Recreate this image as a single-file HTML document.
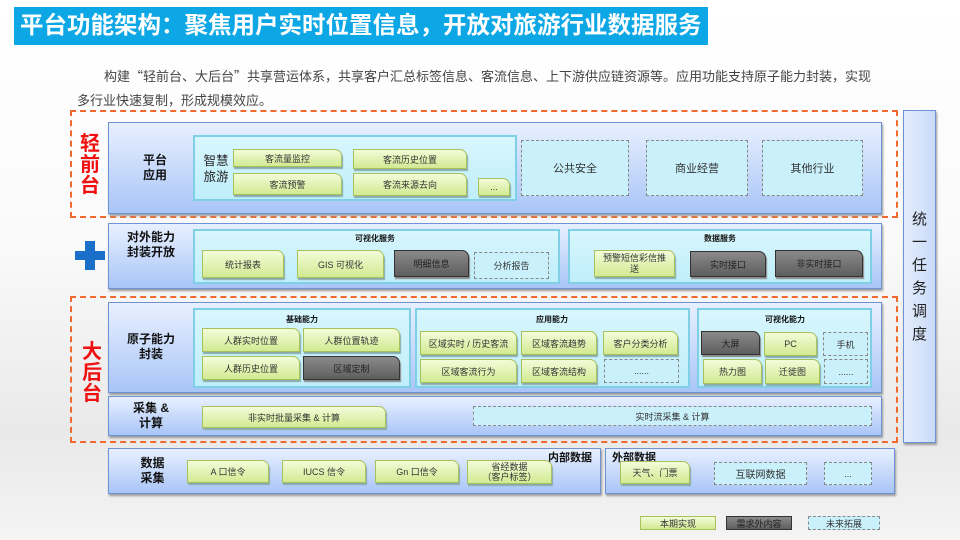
<!DOCTYPE html>
<html><head><meta charset="utf-8"><style>
body{margin:0;width:960px;height:540px;overflow:hidden;position:relative;font-family:"Liberation Sans","Noto Sans CJK SC",sans-serif;background:linear-gradient(#fff 0,#fafafa 45%,#e9e9e9 80%,#f4f4f4 100%);}
div{box-sizing:border-box;position:absolute;}
.t{display:flex;align-items:center;justify-content:center;text-align:center;}
.row{background:linear-gradient(#e8f0ff,#a9c5f7);border:1px solid #6d93d4;box-shadow:1px 2px 2px #999;}
.in{background:linear-gradient(#d8f6fd,#bfeefa);border:2px solid #7fd0e6;}
.g{background:linear-gradient(#f3fcd9,#d2ea92);border:1px solid #a7c25c;font-size:9px;color:#333;box-shadow:1px 2px 1px #8aa;border-top-right-radius:7px;}
.d{background:linear-gradient(#8a8a8a,#5e5e5e);border:1px solid #333;font-size:9px;color:#222;box-shadow:1px 2px 1px #888;border-top-right-radius:7px;}
.x{background:#c9f0fb;border:1.5px dashed #888;font-size:9px;color:#333;}
.lb{font-weight:bold;font-size:12px;color:#111;line-height:15px;}
.h{font-weight:bold;font-size:8px;color:#111;}
.o{border:2px dashed #f06a30;}
</style></head><body>
<div style="left:14px;top:7px;width:694px;height:38px;background:#0ea7e6;overflow:hidden;">
<div style="left:6px;top:0;width:760px;height:38px;color:#fff;font-size:23.5px;font-weight:bold;line-height:37px;white-space:nowrap;">平台功能架构：聚焦用户实时位置信息，开放对旅游行业数据服务</div></div>
<div style="left:77px;top:64px;width:810px;font-size:13px;color:#444;line-height:24px;text-indent:27px;font-family:'Noto Sans CJK SC',sans-serif;">构建“轻前台、大后台”共享营运体系，共享客户汇总标签信息、客流信息、上下游供应链资源等。应用功能支持原子能力封装，实现<br>多行业快速复制，形成规模效应。</div>

<div class="o" style="left:70px;top:110px;width:828px;height:108px;"></div>
<div class="o" style="left:70px;top:296px;width:828px;height:147px;"></div>
<div style="left:78px;top:134px;width:24px;color:#f01010;font-size:20px;font-weight:bold;line-height:21px;text-align:center">轻<br>前<br>台</div>
<div style="left:80px;top:342px;width:24px;color:#f01010;font-size:20px;font-weight:bold;line-height:21px;text-align:center">大<br>后<br>台</div>
<div style="left:75px;top:251px;width:30px;height:9px;background:#1a6fc9;"></div>
<div style="left:85px;top:241px;width:10px;height:29px;background:#1a6fc9;"></div>

<div class="row t" style="left:903px;top:110px;width:33px;height:333px;background:linear-gradient(90deg,#e4edfc,#c9daf8);font-size:15px;color:#222;line-height:23px;">统<br>一<br>任<br>务<br>调<br>度</div>

<!-- row1 -->
<div class="row" style="left:108px;top:122px;width:774px;height:92px;"></div>
<div class="lb t" style="left:130px;top:152px;width:50px;height:32px;">平台<br>应用</div>
<div class="in" style="left:193px;top:135px;width:324px;height:66px;"></div>
<div class="t" style="left:198px;top:152px;width:36px;height:34px;font-size:12.5px;color:#222;line-height:16px;">智慧<br>旅游</div>
<div class="g t" style="left:233px;top:149px;width:109px;height:18px;">客流量监控</div>
<div class="g t" style="left:353px;top:149px;width:114px;height:20px;">客流历史位置</div>
<div class="g t" style="left:233px;top:173px;width:109px;height:22px;">客流预警</div>
<div class="g t" style="left:353px;top:173px;width:114px;height:23px;">客流来源去向</div>
<div class="g t" style="left:478px;top:178px;width:32px;height:18px;">...</div>
<div class="x t" style="left:521px;top:140px;width:108px;height:56px;font-size:11px;">公共安全</div>
<div class="x t" style="left:646px;top:140px;width:102px;height:56px;font-size:11px;">商业经营</div>
<div class="x t" style="left:762px;top:140px;width:101px;height:56px;font-size:11px;">其他行业</div>

<!-- row2 -->
<div class="row" style="left:108px;top:223px;width:774px;height:66px;"></div>
<div class="lb t" style="left:118px;top:229px;width:66px;height:32px;">对外能力<br>封装开放</div>
<div class="in" style="left:193px;top:229px;width:367px;height:55px;"></div>
<div class="h t" style="left:300px;top:232px;width:150px;height:12px;">可视化服务</div>
<div class="g t" style="left:202px;top:250px;width:82px;height:28px;">统计报表</div>
<div class="g t" style="left:297px;top:250px;width:87px;height:28px;">GIS 可视化</div>
<div class="d t" style="left:394px;top:250px;width:75px;height:27px;">明细信息</div>
<div class="x t" style="left:474px;top:252px;width:75px;height:27px;">分析报告</div>
<div class="in" style="left:568px;top:229px;width:304px;height:55px;"></div>
<div class="h t" style="left:680px;top:232px;width:80px;height:12px;">数据服务</div>
<div class="g t" style="left:594px;top:250px;width:81px;height:27px;line-height:11px;">预警短信彩信推<br>送</div>
<div class="d t" style="left:690px;top:251px;width:76px;height:26px;">实时接口</div>
<div class="d t" style="left:775px;top:250px;width:88px;height:27px;">非实时接口</div>

<!-- row3 -->
<div class="row" style="left:108px;top:302px;width:774px;height:91px;"></div>
<div class="lb t" style="left:120px;top:331px;width:62px;height:32px;">原子能力<br>封装</div>
<div class="in" style="left:193px;top:308px;width:218px;height:80px;"></div>
<div class="h t" style="left:262px;top:313px;width:80px;height:12px;">基础能力</div>
<div class="g t" style="left:202px;top:328px;width:98px;height:24px;">人群实时位置</div>
<div class="g t" style="left:303px;top:328px;width:97px;height:24px;">人群位置轨迹</div>
<div class="g t" style="left:202px;top:356px;width:98px;height:24px;">人群历史位置</div>
<div class="d t" style="left:303px;top:356px;width:97px;height:24px;">区域定制</div>
<div class="in" style="left:415px;top:308px;width:275px;height:80px;"></div>
<div class="h t" style="left:512px;top:313px;width:80px;height:12px;">应用能力</div>
<div class="g t" style="left:420px;top:331px;width:97px;height:24px;">区域实时 / 历史客流</div>
<div class="g t" style="left:521px;top:331px;width:76px;height:24px;">区域客流趋势</div>
<div class="g t" style="left:603px;top:331px;width:75px;height:24px;">客户分类分析</div>
<div class="g t" style="left:420px;top:359px;width:97px;height:24px;">区域客流行为</div>
<div class="g t" style="left:521px;top:359px;width:76px;height:24px;">区域客流结构</div>
<div class="x t" style="left:604px;top:359px;width:75px;height:24px;">......</div>
<div class="in" style="left:697px;top:308px;width:175px;height:80px;"></div>
<div class="h t" style="left:745px;top:313px;width:80px;height:12px;">可视化能力</div>
<div class="d t" style="left:701px;top:331px;width:59px;height:24px;">大屏</div>
<div class="g t" style="left:764px;top:332px;width:53px;height:24px;">PC</div>
<div class="x t" style="left:823px;top:332px;width:45px;height:24px;">手机</div>
<div class="g t" style="left:703px;top:359px;width:59px;height:25px;">热力图</div>
<div class="g t" style="left:765px;top:359px;width:55px;height:25px;">迁徙图</div>
<div class="x t" style="left:824px;top:359px;width:44px;height:25px;">......</div>

<!-- row4 -->
<div class="row" style="left:108px;top:396px;width:774px;height:40px;"></div>
<div class="lb t" style="left:122px;top:400px;width:58px;height:32px;">采集 &amp;<br>计算</div>
<div class="g t" style="left:202px;top:406px;width:184px;height:22px;">非实时批量采集 &amp; 计算</div>
<div class="x t" style="left:473px;top:406px;width:399px;height:20px;">实时流采集 &amp; 计算</div>

<!-- row5 -->
<div class="row" style="left:108px;top:448px;width:493px;height:46px;"></div>
<div class="lb t" style="left:125px;top:455px;width:55px;height:32px;">数据<br>采集</div>
<div class="h" style="left:548px;top:449px;font-size:11px;">内部数据</div>
<div class="g t" style="left:187px;top:460px;width:82px;height:23px;">A 口信令</div>
<div class="g t" style="left:282px;top:460px;width:84px;height:23px;">IUCS 信令</div>
<div class="g t" style="left:375px;top:460px;width:84px;height:23px;">Gn 口信令</div>
<div class="g t" style="left:467px;top:460px;width:85px;height:24px;line-height:10px;">省经数据<br>（客户标签）</div>
<div class="row" style="left:605px;top:448px;width:290px;height:46px;"></div>
<div class="h" style="left:612px;top:449px;font-size:11px;">外部数据</div>
<div class="g t" style="left:620px;top:461px;width:70px;height:23px;">天气、门票</div>
<div class="x t" style="left:714px;top:462px;width:93px;height:23px;font-size:10px;">互联网数据</div>
<div class="x t" style="left:824px;top:462px;width:48px;height:23px;">...</div>

<!-- legend -->
<div class="g t" style="left:640px;top:516px;width:76px;height:14px;box-shadow:none;border-radius:0;">本期实现</div>
<div class="d t" style="left:726px;top:516px;width:66px;height:14px;box-shadow:none;border-radius:0;">需求外内容</div>
<div class="x t" style="left:808px;top:516px;width:72px;height:14px;">未来拓展</div>
</body></html>
